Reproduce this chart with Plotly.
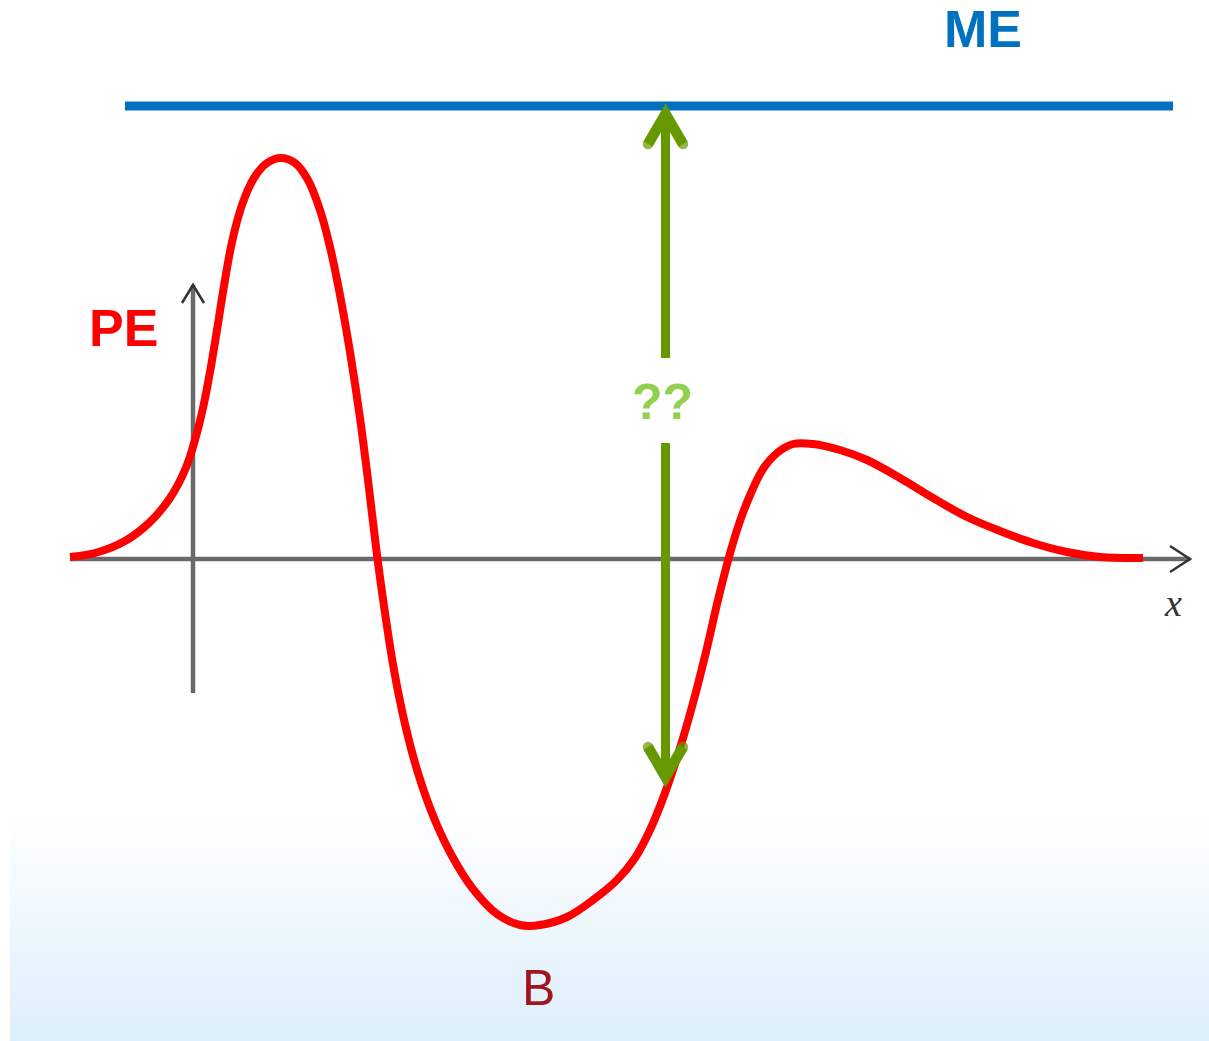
import plotly.graph_objects as go

W, H = 1209, 1041
# data frame: origin where the two axes cross, 100 px per unit
X_RANGE = [-1.93, 10.16]
Y_RANGE = [-4.82, 5.59]

# potential-energy curve
curve_x = [-1.23, -0.98, -0.68, -0.43, -0.23, -0.08, 0.02, 0.10, 0.17, 0.24,
           0.31, 0.39, 0.49, 0.61, 0.74, 0.88, 1.02, 1.15, 1.27, 1.37,
           1.47, 1.57, 1.67, 1.75, 1.84, 1.92, 2.01, 2.12, 2.25, 2.41,
           2.59, 2.80, 3.04, 3.27, 3.47, 3.74, 4.00, 4.24, 4.42, 4.57,
           4.72, 4.87, 5.00, 5.13, 5.25, 5.36, 5.47, 5.58, 5.70, 5.84,
           6.00, 6.20, 6.47, 6.74, 7.07, 7.40, 7.74, 8.07, 8.40, 8.74,
           9.07, 9.50]
curve_pe = [0.02, 0.06, 0.18, 0.37, 0.61, 0.89, 1.19, 1.51, 1.87, 2.29,
            2.73, 3.17, 3.54, 3.81, 3.96, 4.01, 3.96, 3.79, 3.49, 3.12,
            2.64, 2.07, 1.41, 0.79, 0.04, -0.54, -1.11, -1.65, -2.14, -2.59,
            -2.97, -3.30, -3.55, -3.66, -3.66, -3.58, -3.41, -3.21, -2.99, -2.71,
            -2.34, -1.89, -1.44, -0.93, -0.41, 0.02, 0.38, 0.66, 0.90, 1.06,
            1.15, 1.15, 1.09, 0.99, 0.81, 0.61, 0.42, 0.28, 0.16, 0.07,
            0.02, 0.01]

me_level = 4.53
me_x = [-0.68, 9.80]

arrow_x = 4.725
arrow_top = 4.51
arrow_bottom = -2.24
gap_top, gap_bottom = 2.01, 1.16

x_axis_span = [-1.23, 9.97]
y_axis_span = [-1.34, 2.74]

labels = {
    "ME": (7.90, 5.30),
    "PE": (-0.70, 2.31),
    "??": (4.69, 1.57),
    "B": (3.45, -4.29),
    "x": (9.80, -0.44),
}

PX = 0.01  # data units per pixel

fig = go.Figure()

# background gradient at the bottom
n = 60
g_top, g_bot = 815, 1041
for i in range(n):
    t = (i + 0.5) / n
    r = round(255 + (220 - 255) * t)
    g = round(255 + (238 - 255) * t)
    b = round(255 + (252 - 255) * t)
    y0 = g_top + (g_bot - g_top) * i / n
    y1 = g_top + (g_bot - g_top) * (i + 1) / n + 0.6
    fig.add_shape(type="rect", xref="paper", yref="paper",
                  x0=10 / W, x1=1.0, y0=1 - y1 / H, y1=1 - y0 / H,
                  fillcolor=f"rgb({r},{g},{b})", line_width=0, layer="below")

axis_col = "#6a6a6a"
head_col = "#333333"
# x axis
fig.add_trace(go.Scatter(x=x_axis_span, y=[0, 0], mode="lines",
                         line=dict(color=axis_col, width=4.5), hoverinfo="skip"))
xe = x_axis_span[1]
fig.add_trace(go.Scatter(x=[xe - 20 * PX, xe, xe - 20 * PX], y=[13 * PX, 0, -13 * PX], mode="lines",
                         line=dict(color=head_col, width=2.5), hoverinfo="skip"))
# y axis
fig.add_trace(go.Scatter(x=[0, 0], y=y_axis_span, mode="lines",
                         line=dict(color=axis_col, width=4.5), hoverinfo="skip"))
ye = y_axis_span[1]
fig.add_trace(go.Scatter(x=[-11 * PX, 0, 11 * PX], y=[ye - 18 * PX, ye, ye - 18 * PX], mode="lines",
                         line=dict(color=head_col, width=2.5), hoverinfo="skip"))

# ME line
fig.add_trace(go.Scatter(x=me_x, y=[me_level, me_level], mode="lines",
                         line=dict(color="#0070c0", width=9), hoverinfo="skip"))

# PE curve
fig.add_trace(go.Scatter(x=curve_x, y=curve_pe, mode="lines",
                         line=dict(color="#ff0000", width=8, shape="spline", smoothing=1.0,
                                   simplify=False),
                         hoverinfo="skip"))

# green double arrow
green = "#669900"
fig.add_trace(go.Scatter(x=[arrow_x, arrow_x], y=[gap_top, arrow_top - 10 * PX], mode="lines",
                         line=dict(color=green, width=9), hoverinfo="skip"))
fig.add_trace(go.Scatter(x=[arrow_x, arrow_x], y=[gap_bottom, arrow_bottom + 10 * PX], mode="lines",
                         line=dict(color=green, width=9), hoverinfo="skip"))
for tip, sgn in ((arrow_top, -1), (arrow_bottom, 1)):
    inner = tip + sgn * 6 * PX
    wing_y = inner + sgn * 30 * PX
    fig.add_trace(go.Scatter(x=[arrow_x - 17.5 * PX, arrow_x, arrow_x + 17.5 * PX],
                             y=[wing_y, inner, wing_y], mode="lines+markers",
                             line=dict(color=green, width=10.5),
                             marker=dict(size=[10.5, 0, 10.5], color=green, line_width=0),
                             hoverinfo="skip"))
    fig.add_shape(type="path", xref="x", yref="y",
                  path=(f"M {arrow_x} {tip} L {arrow_x - 10 * PX} {tip + sgn * 17 * PX} "
                        f"L {arrow_x + 10 * PX} {tip + sgn * 17 * PX} Z"),
                  fillcolor=green, line=dict(color=green, width=1))

# labels
def label(key, text, size, color, family="Liberation Sans, Arial, sans-serif"):
    x, y = labels[key]
    fig.add_annotation(x=x, y=y, text=text, showarrow=False, xanchor="center", yanchor="middle",
                       font=dict(size=size, color=color, family=family))

label("ME", "<b>ME</b>", 52, "#0070c0")
label("PE", "<b>PE</b>", 52, "#ff0000")
label("??", "<b>??</b>", 50, "#92d050")
label("B", "B", 50, "#a0161c")
label("x", "<i>x</i>", 38, "#333333", family="Liberation Serif, Times New Roman, serif")

fig.update_layout(
    width=W, height=H, margin=dict(l=0, r=0, t=0, b=0),
    paper_bgcolor="white", plot_bgcolor="rgba(0,0,0,0)",
    showlegend=False,
    xaxis=dict(range=X_RANGE, visible=False, fixedrange=True),
    yaxis=dict(range=Y_RANGE, visible=False, fixedrange=True),
)

fig.write_html("out.html", config={"displayModeBar": False},
               post_script="document.body.style.margin='0';document.body.style.overflow='hidden';")
